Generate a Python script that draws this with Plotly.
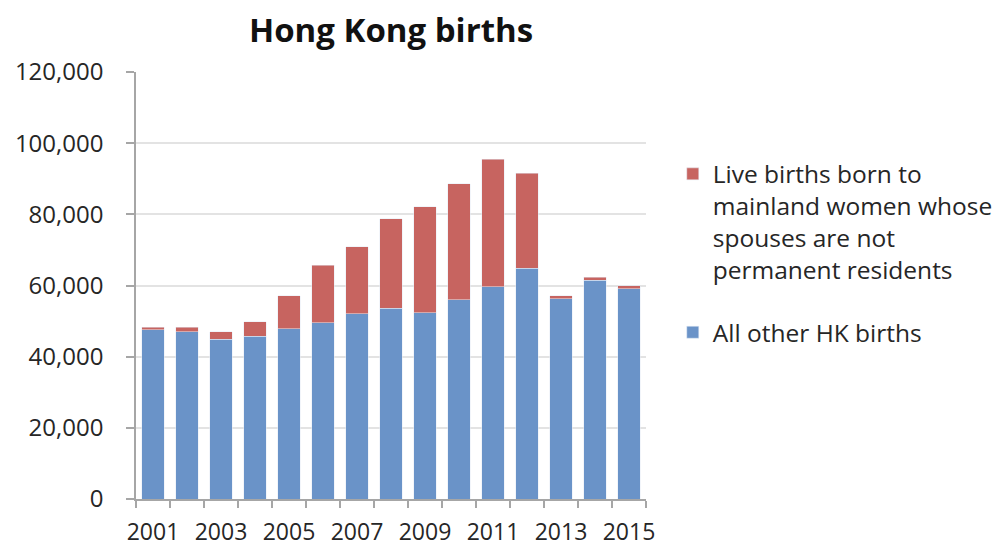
import plotly.graph_objects as go

# Hong Kong live births, split by mother's status
years = [str(y) for y in range(2001, 2016)]
other_births = [47599, 46959, 44895, 45694, 47825, 49582, 52059, 53553,
                52329, 55931, 59715, 64843, 56294, 61482, 59103]
mainland_births = [620, 1250, 2070, 4102, 9273, 16044, 18816, 25269,
                   29766, 32653, 35736, 26715, 790, 823, 775]
year_labels = [y if int(y) % 2 == 1 else "" for y in years]
y_ticks = [0, 20000, 40000, 60000, 80000, 100000, 120000]

BLUE = "#6A93C8"
RED = "#C76460"
FONT = "Open Sans"

fig = go.Figure()
fig.add_trace(go.Bar(
    x=years, y=other_births, name="All other HK births",
    marker=dict(color=BLUE), legendgroup="b", legendrank=2,
))
fig.add_trace(go.Bar(
    x=years, y=mainland_births,
    name="Live births born to<br>mainland women whose<br>spouses are not<br>permanent residents",
    marker=dict(color=RED), legendgroup="a", legendrank=1,
))

fig.update_layout(
    barmode="stack",
    bargap=0.33,
    width=1005, height=550,
    margin=dict(l=136, r=359, t=72, b=50.5, autoexpand=False),
    paper_bgcolor="white", plot_bgcolor="white",
    font=dict(family=FONT, size=24, color="#262626"),
    title=dict(text="<b>Hong Kong births</b>", x=0.5, xref="paper",
               y=1 - 30 / 550, yref="container", yanchor="middle",
               font=dict(family=FONT, size=33, color="#111111")),
    legend=dict(
        x=1.0525, xanchor="left", y=0.814, yanchor="top",
        font=dict(family=FONT, size=24.5, color="#262626"),
        valign="top", traceorder="grouped", tracegroupgap=28,
        bgcolor="rgba(0,0,0,0)",
    ),
    showlegend=True,
)

fig.update_xaxes(
    type="category", automargin=False,
    tickvals=years, ticktext=year_labels, tickangle=0,
    tickson="boundaries",
    ticks="outside", ticklen=7, tickwidth=1.5, tickcolor="#a6a6a6",
    showline=True, linecolor="#a6a6a6", linewidth=1.5,
    showgrid=False, ticklabelstandoff=12,
    tickfont=dict(family=FONT, size=23, color="#262626"),
)
fig.update_yaxes(
    range=[0, 120000], automargin=False,
    tickvals=y_ticks, tickformat=",d",
    ticks="outside", ticklen=8, tickwidth=1.5, tickcolor="#a6a6a6",
    showline=True, linecolor="#a6a6a6", linewidth=1.5,
    showgrid=True, gridcolor="#e3e3e3", gridwidth=2,
    zeroline=False, ticklabelstandoff=18,
    tickfont=dict(family=FONT, size=24, color="#262626"),
)

fig.write_html("out.html")
